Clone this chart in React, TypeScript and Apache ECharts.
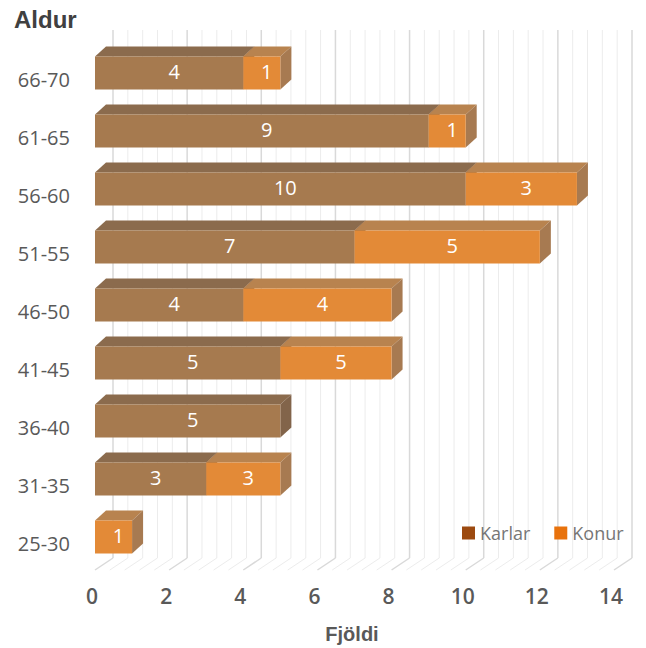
import React, { useEffect, useRef } from "react";
import * as echarts from "echarts";

const categories = ["25-30", "31-35", "36-40", "41-45", "46-50", "51-55", "56-60", "61-65", "66-70"];
// bar lengths as drawn
const karlar = [0, 3, 5, 5, 4, 7, 10, 9, 4];
const konur = [1, 2, 0, 3, 4, 5, 3, 1, 1];
// data labels as printed on the bars
const karlarLabels = ["", "3", "5", "5", "4", "7", "10", "9", "4"];
const konurLabels = ["1", "3", "", "5", "4", "5", "3", "1", "1"];
const xTicks = [0, 2, 4, 6, 8, 10, 12, 14];

const DX = 11;
const DY = 10;
const WALL_DX = 18;

function barRenderer(colors: { front: string; top: string; side: string }, labels: string[]) {
  return (params: any, api: any) => {
    const start = api.value(0);
    const cat = api.value(1);
    const end = api.value(2);
    if (end - start <= 0) return null;
    const p0 = api.coord([start, cat]);
    const p1 = api.coord([end, cat]);
    const band = api.size([0, 1])[1];
    const h = band * 0.57;
    const x0 = p0[0];
    const x1 = p1[0];
    const yT = p0[1] - h / 2;
    const yB = yT + h;
    return {
      type: "group",
      children: [
        {
          type: "polygon",
          shape: { points: [[x0, yT], [x1, yT], [x1 + DX, yT - DY], [x0 + DX, yT - DY]] },
          style: { fill: colors.top },
        },
        {
          type: "polygon",
          shape: { points: [[x1, yT], [x1 + DX, yT - DY], [x1 + DX, yB - DY], [x1, yB]] },
          style: { fill: colors.side },
        },
        {
          type: "rect",
          shape: { x: x0, y: yT, width: x1 - x0, height: h },
          style: { fill: colors.front },
        },
        {
          type: "text",
          style: {
            text: labels[params.dataIndex],
            x: (x0 + x1) / 2 + 5,
            y: (yT + yB) / 2 - 2,
            fill: "#ffffff",
            fontSize: 20,
            fontFamily: "Open Sans",
            align: "center",
            verticalAlign: "middle",
          },
        },
      ],
    };
  };
}

function gridRenderer(params: any, api: any) {
  const cs = params.coordSys;
  const wallTop = cs.y - 14;
  const floorBack = cs.y + cs.height - 8;
  const floorFront = cs.y + cs.height + 4;
  const children: any[] = [];
  const steps = 35;
  for (let i = 0; i <= steps; i++) {
    const v = (14 * i) / steps;
    const x = api.coord([v, 0])[0];
    const major = i % 5 === 0;
    const stroke = major ? "#d9d9d9" : "#ececec";
    children.push({
      type: "line",
      shape: { x1: x + WALL_DX, y1: wallTop, x2: x + WALL_DX, y2: floorBack },
      style: { stroke, lineWidth: major ? 1.5 : 1 },
    });
    children.push({
      type: "line",
      shape: { x1: x + WALL_DX, y1: floorBack, x2: x, y2: floorFront },
      style: { stroke, lineWidth: major ? 1.5 : 1 },
    });
  }
  return { type: "group", children };
}

export default function App() {
  const ref = useRef<HTMLDivElement>(null);
  useEffect(() => {
    if (!ref.current) return;
    const chart = echarts.init(ref.current, undefined, { renderer: "svg" });
    chart.setOption({
      animation: false,
      backgroundColor: "#ffffff",
      grid: { left: 95, right: 32, top: 44, bottom: 82, containLabel: false },
      legend: {
        data: ["Karlar", "Konur"],
        left: 457,
        top: 519,
        icon: "rect",
        itemWidth: 13,
        itemHeight: 13,
        itemGap: 24,
        textStyle: { fontSize: 18, color: "#767676", fontFamily: "Open Sans" },
      },
      xAxis: {
        type: "value",
        min: 0,
        max: 14,
        interval: 2,
        axisLine: { show: false },
        axisTick: { show: false },
        splitLine: { show: false },
        axisLabel: {
          fontSize: 21,
          color: "#595959",
          fontWeight: 600,
          fontFamily: "Open Sans",
          margin: 19,
          padding: [0, 6, 0, 0],
          formatter: (v: number) => (xTicks.includes(v) ? String(v) : ""),
        },
      },
      yAxis: {
        type: "category",
        data: categories,
        axisLine: { show: false },
        axisTick: { show: false },
        splitLine: { show: false },
        axisLabel: {
          margin: 25,
          formatter: (v: string) => "{a|" + v + "}",
          rich: {
            a: {
              fontSize: 20,
              color: "#595959",
              fontFamily: "Open Sans",
              padding: [12, 0, 0, 0],
            },
          },
        },
      },
      graphic: [
        {
          type: "text",
          x: 14,
          y: 19,
          style: {
            text: "Aldur",
            fontSize: 24,
            fontWeight: "bold",
            fontFamily: "Liberation Sans",
            fill: "#404040",
            verticalAlign: "middle",
          },
        },
        {
          type: "text",
          x: 352,
          y: 634,
          style: {
            text: "Fjöldi",
            fontSize: 20,
            fontWeight: "bold",
            fontFamily: "Liberation Sans",
            fill: "#595959",
            align: "center",
            verticalAlign: "middle",
          },
        },
      ],
      series: [
        {
          type: "custom",
          name: "grid3d",
          silent: true,
          z: 0,
          data: [[0, 0]],
          encode: { x: 0, y: 1 },
          renderItem: gridRenderer,
        },
        {
          type: "custom",
          name: "Karlar",
          z: 2,
          itemStyle: { color: "#9c4a10" },
          data: categories.map((_, i) => [0, i, karlar[i]]),
          encode: { x: [0, 2], y: 1 },
          renderItem: barRenderer({ front: "#a67a4f", top: "#8b6b4d", side: "#82644a" }, karlarLabels),
        },
        {
          type: "custom",
          name: "Konur",
          z: 3,
          itemStyle: { color: "#e8720c" },
          data: categories.map((_, i) => [karlar[i], i, karlar[i] + konur[i]]),
          encode: { x: [0, 2], y: 1 },
          renderItem: barRenderer({ front: "#e38a37", top: "#b8834f", side: "#a77a51" }, konurLabels),
        },
      ],
    });
    return () => chart.dispose();
  }, []);
  return (
    <div
      ref={ref}
      style={{ position: "fixed", left: 0, top: 0, width: 646, height: 648 }}
    />
  );
}
